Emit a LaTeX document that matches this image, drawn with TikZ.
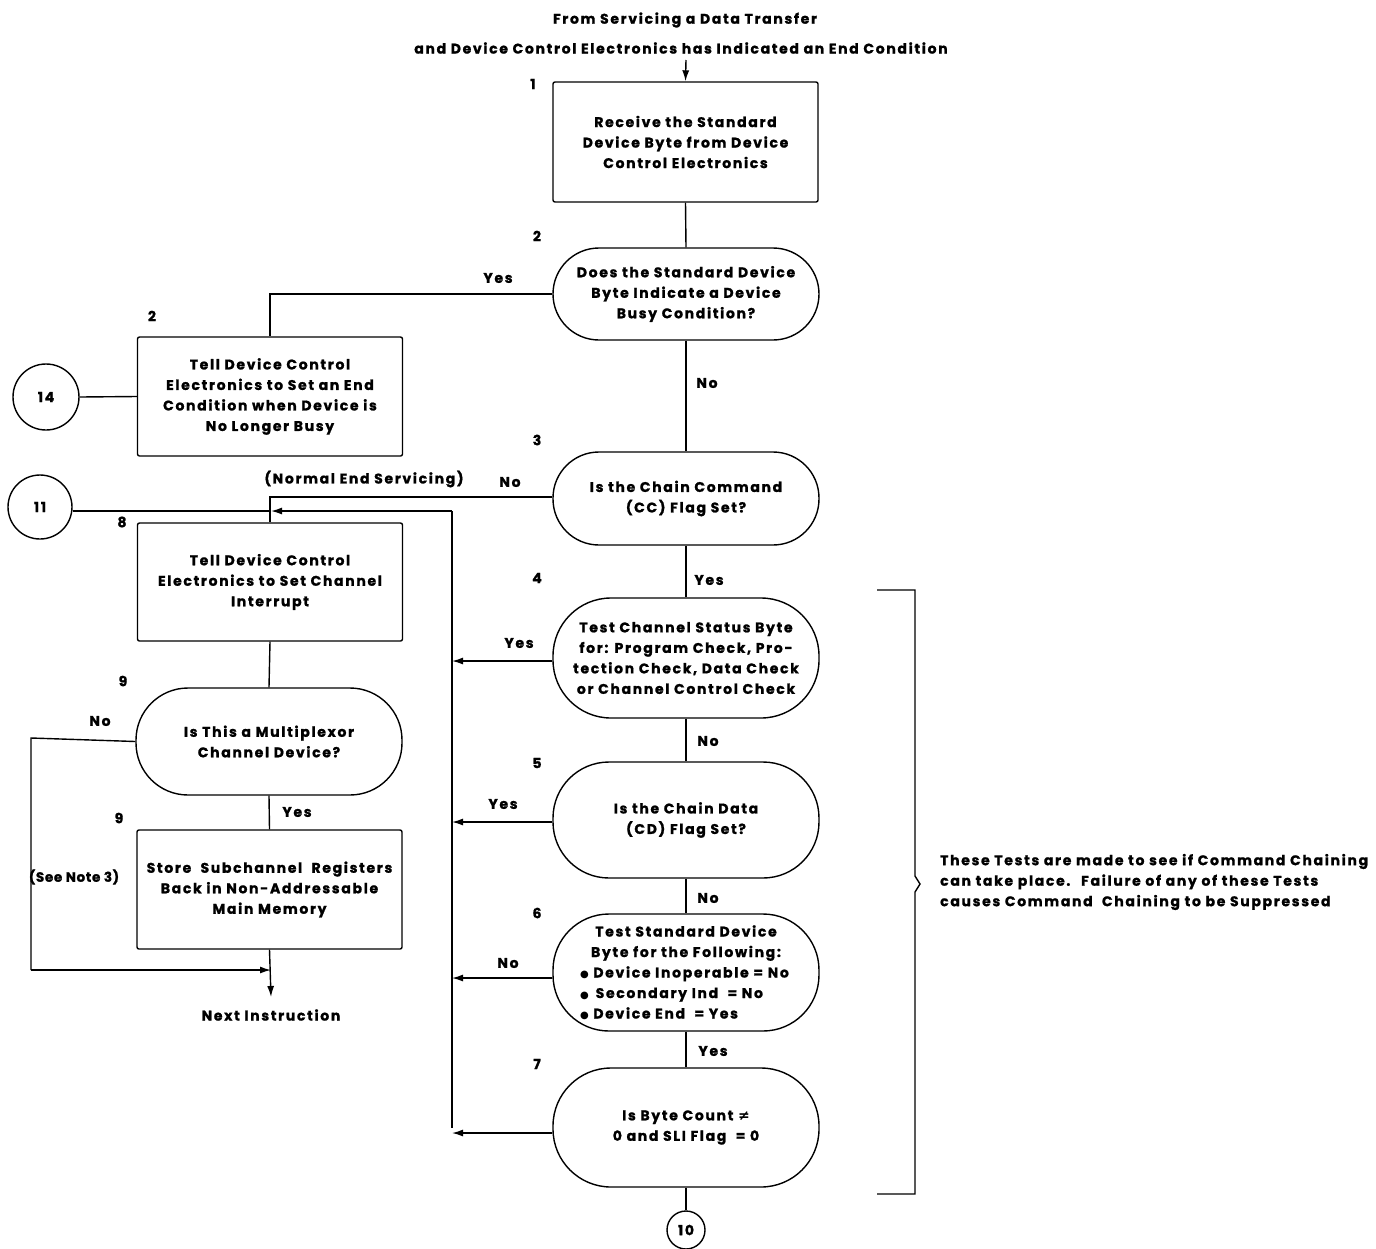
\documentclass[tikz,border=0pt]{standalone}
\usepackage{fontspec}
\setmainfont{Poppins}[LetterSpace=12,BoldFeatures={FakeBold=1.2}]
\newfontfamily\symf{DejaVu Sans}
\newfontfamily\notef{Poppins}[LetterSpace=5,BoldFeatures={FakeBold=1.2}]
\usetikzlibrary{arrows.meta}
\begin{document}
\begin{tikzpicture}[x=1pt,y=-1pt,
  every node/.style={font=\bfseries\fontsize{14}{20.5}\selectfont},
  ln/.style={line width=1.4pt},
  arr/.style={ln,-{Latex[length=11pt,width=7pt]}},
  box/.style={draw,ln,rounded corners=2pt,minimum width=265pt,align=center,inner sep=0pt},
  dec/.style={draw,ln,minimum width=266pt,align=center,inner sep=0pt},
  lbl/.style={inner sep=0pt},
  conn/.style={draw,ln,circle,inner sep=0pt}]
\useasboundingbox (0,0) rectangle (1376,1248);

% header
\node[lbl] (t1) at (685,20) {From Servicing a Data Transfer};
\node[lbl] (t2) at (681,48) {and Device Control Electronics has Indicated an End Condition};
\coordinate (start) at (686,60);

% main column
\node[box,minimum height=120pt] (b1) at (685.5,142) {Receive the Standard\\Device Byte from Device\\Control Electronics};
\node[dec,minimum height=92pt,rounded corners=46pt] (d2) at (686,294) {Does the Standard Device\\Byte Indicate a Device\\Busy Condition?};
\node[dec,minimum height=93pt,rounded corners=46pt] (d3) at (686,498.5) {Is the Chain Command\\(CC) Flag Set?};
\node[dec,minimum height=120pt,rounded corners=58pt] (d4) at (686,658) {Test Channel Status Byte\\for: Program Check, Pro-\\tection Check, Data Check\\or Channel Control Check};
\node[dec,minimum height=116pt,rounded corners=56pt] (d5) at (686,820) {Is the Chain Data\\(CD) Flag Set?};
\node[dec,minimum height=117pt,rounded corners=56pt] (d6) at (686,972.5) {Test Standard Device\\Byte for the Following:\\\makebox[212pt][l]{{\symf\fontsize{10}{10}\selectfont ●}\ Device Inoperable = No}\\\makebox[212pt][l]{{\symf\fontsize{10}{10}\selectfont ●}\ \,Secondary Ind \ = No}\\\makebox[212pt][l]{{\symf\fontsize{10}{10}\selectfont ●}\ Device End \ = Yes}};
\node[dec,minimum height=119pt,rounded corners=58pt] (d7) at (686,1127.5) {Is Byte Count {\symf ≠}\\0 and SLI Flag \ = 0};
\node[conn,minimum size=38pt] (c10) at (686,1230) {10};

% left column
\node[box,minimum height=119pt] (b2) at (270,396.5) {Tell Device Control\\Electronics to Set an End\\Condition when Device is\\No Longer Busy};
\node[conn,minimum size=66pt] (c14) at (46,397) {14};
\node[conn,minimum size=64pt] (c11) at (40,507) {11};
\node[box,minimum height=118pt] (b8) at (270,582) {Tell Device Control\\Electronics to Set Channel\\Interrupt};
\node[dec,minimum height=107pt,rounded corners=52pt] (d9) at (269,741.5) {Is This a Multiplexor\\Channel Device?};
\node[box,minimum height=119pt] (b9) at (269.5,889.5) {Store \ Subchannel \ Registers\\Back in Non-Addressable\\Main Memory};
\node[lbl] (next) at (271,1015) {Next Instruction};

% step numbers
\node[lbl] at (533,84) {1};
\node[lbl] at (537,236) {2};
\node[lbl] at (152,316) {2};
\node[lbl] at (537,440) {3};
\node[lbl] at (537,578) {4};
\node[lbl] at (537,763) {5};
\node[lbl] at (537,913) {6};
\node[lbl] at (537,1064) {7};
\node[lbl] at (122,522) {8};
\node[lbl] at (123,681) {9};
\node[lbl] at (119,818) {9};

% coordinates
\coordinate (bus) at (452,511);
\coordinate (j11) at (271,511);
\coordinate (nl) at (31,738);
\coordinate (nb) at (31,970);
\coordinate (mj) at (271,970);
\coordinate (endp) at (271,997);

% connectors main column
\draw[arr] (start) -- (b1.north);
\draw[ln] (b1.south) -- (d2.north);
\draw[ln] (d2.south) -- (d3.north);
\draw[ln] (d3.south) -- (d4.north);
\draw[ln] (d4.south) -- (d5.north);
\draw[ln] (d5.south) -- (d6.north);
\draw[ln] (d6.south) -- (d7.north);
\draw[ln] (d7.south) -- (c10.north);

% branches
\draw[ln] (d2.west) -| (b2.north);
\draw[ln] (c14.east) -- (b2.west);
\draw[ln] (d3.west |- 0,497) -| (b8.north);
\draw[ln] (c11.east |- j11) -- (j11);
\draw[ln] (bus) |- (d7.west -| bus) ;
\draw[arr] (bus) -- (j11);
\draw[arr] (d4.west |- 0,661) -- (bus |- 0,661);
\draw[arr] (d5.west |- 0,822) -- (bus |- 0,822);
\draw[arr] (d6.west |- 0,978) -- (bus |- 0,978);
\draw[arr] (d7.west |- 0,1133) -- (bus |- 0,1133);

% left column connectors
\draw[ln] (b8.south) -- (d9.north);
\draw[ln] (d9.south) -- (b9.north);
\draw[ln] (d9.west) -- (nl) -- (nb);
\draw[arr] (nb) -- (mj);
\draw[arr] (b9.south) -- (endp);

% branch labels
\node[lbl] at (498,278) {Yes};
\node[lbl] at (707,383) {No};
\node[lbl] at (364,479) {(Normal End Servicing)};
\node[lbl] at (510,482) {No};
\node[lbl] at (709,580) {Yes};
\node[lbl] at (519,643) {Yes};
\node[lbl] at (708,741) {No};
\node[lbl] at (503,804) {Yes};
\node[lbl] at (708,898) {No};
\node[lbl] at (508,963) {No};
\node[lbl] at (713,1051) {Yes};
\node[lbl] at (100,721) {No};
\node[lbl] at (297,812) {Yes};
\node[lbl,font=\notef\bfseries\fontsize{13.5}{16}\selectfont] at (74,877) {(See Note 3)};

% bracket
\draw[ln] (877,590) -- (915,590) -- (915,876) -- (920,884) -- (915,892) -- (915,1194) -- (877,1194);
\node[lbl,align=left,anchor=west] (note) at (940,882) {These Tests are made to see if Command Chaining\\can take place. \ Failure of any of these Tests\\causes Command \ Chaining to be Suppressed};
\end{tikzpicture}
\end{document}
